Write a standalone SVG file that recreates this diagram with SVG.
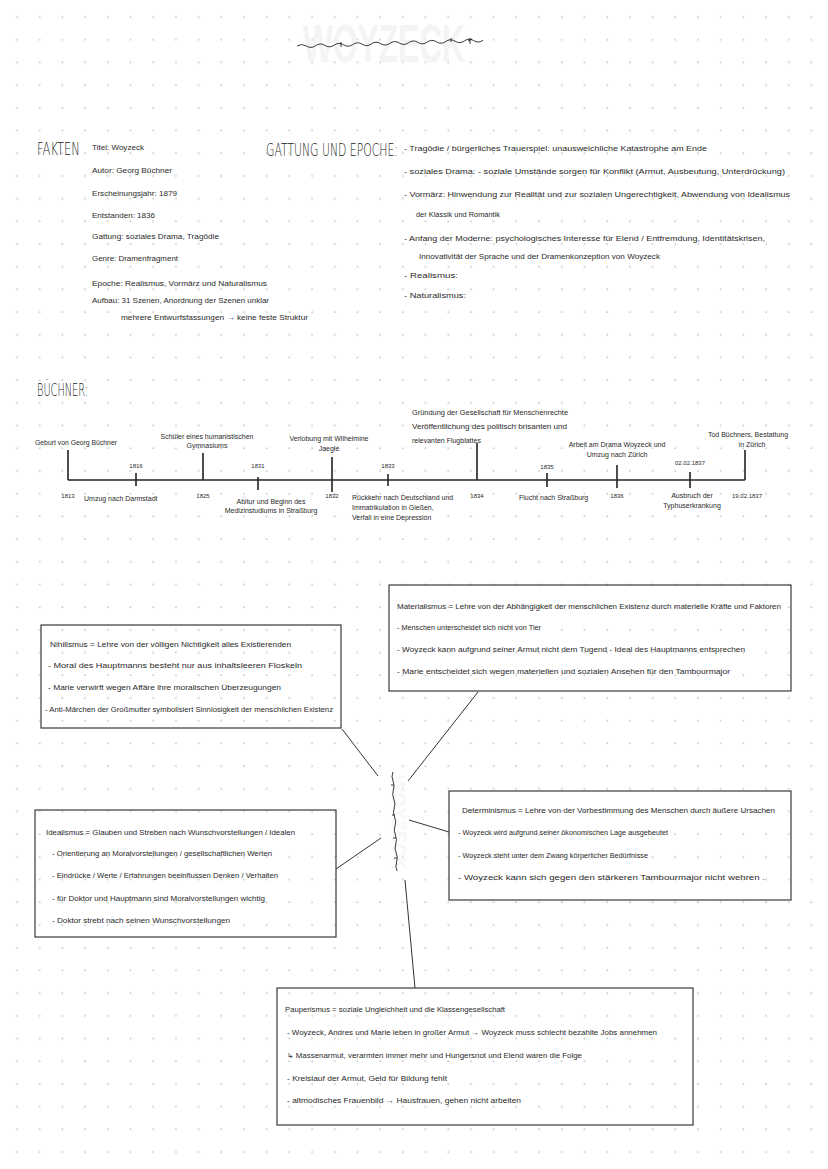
<svg xmlns="http://www.w3.org/2000/svg" width="828" height="1169" viewBox="0 0 828 1169">
<style>
.t{font-family:"Liberation Sans","DejaVu Sans",sans-serif;font-size:8px;fill:#2a2a2a}
.s{font-family:"Liberation Sans","DejaVu Sans",sans-serif;font-size:7px;fill:#2a2a2a}
.y{font-family:"Liberation Sans","DejaVu Sans",sans-serif;font-size:6px;fill:#2a2a2a}
.h{font-family:"DejaVu Sans","Liberation Sans",sans-serif;font-weight:200;fill:#222}
.box{fill:none;stroke:#3a3a3a;stroke-width:1.2}
.con line{stroke:#333;stroke-width:1}
.tl{stroke:#222;stroke-width:1.6;fill:none}
.sq{fill:none;stroke:#222;stroke-width:0.9}
.wm{font-family:"Liberation Sans",sans-serif;font-weight:bold;fill:#f4f4f4}
.m{text-anchor:middle}
</style>
<defs>
<pattern id="dots" x="0" y="0" width="22.7" height="22.7" patternUnits="userSpaceOnUse"><circle cx="17" cy="17" r="0.9" fill="#c6c6c6"/></pattern>
</defs>
<rect width="828" height="1169" fill="#ffffff"/>
<rect width="828" height="1169" fill="url(#dots)"/>

<g id="title">
<text class="wm" x="303" y="62" font-size="54" textLength="162" lengthAdjust="spacingAndGlyphs">WOYZECK</text>
<path class="sq" d="M297,46 q4.6,-3 9.3,0 t9.3,-0.3 t9.3,-0.3 t9.3,-0.3 t9.3,-0.3 t9.3,-0.3 t9.3,-0.3 t9.3,-0.3 t9.3,-0.3 t9.3,-0.3 t9.3,-0.3 t9.3,-0.3 t9.3,-0.3 t9.3,-0.3 t9.3,-0.3 t9.3,-0.3 t9.3,-0.3 t9.3,-0.3 t9.3,-0.3 t9.3,-0.3 M341,47 v-5 M451,42 v-4 M470,44 v-6 M468,41 l4,-2"/>
</g>

<g id="fakten">
<text class="h" font-size="18" transform="translate(37,155) scale(0.614,1)" textLength="70" lengthAdjust="spacingAndGlyphs">FAKTEN</text>
<text class="t" x="92" y="150" textLength="52" lengthAdjust="spacingAndGlyphs">Titel: Woyzeck</text>
<text class="t" x="92" y="173" textLength="80" lengthAdjust="spacingAndGlyphs">Autor: Georg Büchner</text>
<text class="t" x="92" y="196" textLength="85" lengthAdjust="spacingAndGlyphs">Erscheinungsjahr: 1879</text>
<text class="t" x="92" y="218" textLength="63" lengthAdjust="spacingAndGlyphs">Entstanden: 1836</text>
<text class="t" x="92" y="239" textLength="127" lengthAdjust="spacingAndGlyphs">Gattung: soziales Drama, Tragödie</text>
<text class="t" x="92" y="261" textLength="86" lengthAdjust="spacingAndGlyphs">Genre: Dramenfragment</text>
<text class="t" x="92" y="286" textLength="175" lengthAdjust="spacingAndGlyphs">Epoche: Realismus, Vormärz und Naturalismus</text>
<text class="t" x="92" y="303" textLength="177" lengthAdjust="spacingAndGlyphs">Aufbau: 31 Szenen, Anordnung der Szenen unklar</text>
<text class="t" x="121" y="320" textLength="187" lengthAdjust="spacingAndGlyphs">mehrere Entwurfsfassungen → keine feste Struktur</text>
</g>

<g id="gattung">
<text class="h" font-size="18" transform="translate(266,156) scale(0.6,1)" textLength="220" lengthAdjust="spacingAndGlyphs">GATTUNG UND EPOCHE:</text>
<text class="t" x="404" y="151" textLength="303" lengthAdjust="spacingAndGlyphs">- Tragödie / bürgerliches Trauerspiel: unausweichliche Katastrophe am Ende</text>
<text class="t" x="404" y="174" textLength="381" lengthAdjust="spacingAndGlyphs">- soziales Drama: - soziale Umstände sorgen für Konflikt (Armut, Ausbeutung, Unterdrückung)</text>
<text class="t" x="404" y="197" textLength="386" lengthAdjust="spacingAndGlyphs">- Vormärz: Hinwendung zur Realität und zur sozialen Ungerechtigkeit, Abwendung von Idealismus</text>
<text class="t" x="416" y="217" textLength="84" lengthAdjust="spacingAndGlyphs">der Klassik und Romantik</text>
<text class="t" x="404" y="241" textLength="361" lengthAdjust="spacingAndGlyphs">- Anfang der Moderne: psychologisches Interesse für Elend / Entfremdung, Identitätskrisen,</text>
<text class="t" x="419" y="259" textLength="241" lengthAdjust="spacingAndGlyphs">Innovativität der Sprache und der Dramenkonzeption von Woyzeck</text>
<text class="t" x="404" y="278" textLength="54" lengthAdjust="spacingAndGlyphs">-   Realismus:</text>
<text class="t" x="404" y="298" textLength="62" lengthAdjust="spacingAndGlyphs">-   Naturalismus:</text>
</g>

<g id="buechner">
<text class="h" font-size="17" transform="translate(37,396) scale(0.57,1)" textLength="89.5" lengthAdjust="spacingAndGlyphs">BÜCHNER:</text>
<path class="tl" d="M68,480 H745 M68,450 V480 M136,473 V486 M203,453 V480 M258,477 V490 M332,457 V492 M388,474 V486 M477,443 V480 M547,473 V487 M617,465 V488 M690,472 V488 M745,450 V480"/>
<text class="s" x="35" y="445" textLength="82" lengthAdjust="spacingAndGlyphs">Geburt von Georg Büchner</text>
<text class="y m" x="68" y="498">1813</text>
<text class="y m" x="136" y="468">1816</text>
<text class="s" x="84" y="501">Umzug nach Darmstadt</text>
<text class="s m" x="207" y="439">Schüler eines humanistischen</text>
<text class="s m" x="207" y="448">Gymnasiums</text>
<text class="y m" x="203" y="498">1825</text>
<text class="y m" x="258" y="468">1831</text>
<text class="s m" x="271" y="504">Abitur und Beginn des</text>
<text class="s m" x="271" y="513">Medizinstudiums in Straßburg</text>
<text class="s m" x="329" y="441">Verlobung mit Wilhelmine</text>
<text class="s m" x="329" y="451">Jaeglé</text>
<text class="y m" x="332" y="498">1832</text>
<text class="y m" x="388" y="468">1833</text>
<text class="s" x="352" y="500">Rückkehr nach Deutschland und</text>
<text class="s" x="352" y="510">Immatrikulation in Gießen,</text>
<text class="s" x="352" y="520">Verfall in eine Depression</text>
<text class="s" x="412" y="415" textLength="156" lengthAdjust="spacingAndGlyphs">Gründung der Gesellschaft für Menschenrechte</text>
<text class="s" x="412" y="429" textLength="155" lengthAdjust="spacingAndGlyphs">Veröffentlichung des politisch brisanten und</text>
<text class="s" x="412" y="443">relevanten Flugblattes</text>
<text class="y m" x="477" y="498">1834</text>
<text class="y m" x="547" y="469">1835</text>
<text class="s" x="519" y="500">Flucht nach Straßburg</text>
<text class="s m" x="617" y="447">Arbeit am Drama Woyzeck und</text>
<text class="s m" x="617" y="457">Umzug nach Zürich</text>
<text class="y m" x="617" y="498">1836</text>
<text class="y m" x="690" y="465">02.02.1837</text>
<text class="s m" x="692" y="498">Ausbruch der</text>
<text class="s m" x="692" y="508">Typhuserkrankung</text>
<text class="s m" x="748" y="437">Tod Büchners, Bestattung</text>
<text class="s m" x="752" y="447">in Zürich</text>
<text class="y m" x="747" y="498">19.02.1837</text>
</g>

<g class="con" id="connectors">
<line x1="342" y1="729" x2="378" y2="776"/>
<line x1="478" y1="692" x2="408" y2="781"/>
<line x1="336" y1="869" x2="381" y2="838"/>
<line x1="409" y1="820" x2="449" y2="832"/>
<line x1="405" y1="880" x2="415" y2="988"/>
</g>

<g id="center">
<text class="wm" font-size="20" transform="translate(392,775) rotate(90)" style="fill:#f8f8f8" textLength="95" lengthAdjust="spacingAndGlyphs">WOYZECK</text>
<path class="sq" d="M393,772 q-2,4.5 0,9 t0.4,9 t0.4,9 t0.4,9 t0.4,9 t0.4,9 t0.4,9 t0.4,9 t0.4,9 t0.4,9 t0.4,9 M391,785 h3 M392,815 h3 M393,838 h3 M394,858 h3"/>
</g>

<g id="nihilismus">
<rect class="box" x="41" y="625" width="300" height="103"/>
<text class="s" x="50" y="647" textLength="241" lengthAdjust="spacingAndGlyphs">Nihilismus = Lehre von der völligen Nichtigkeit alles Existierenden</text>
<text class="s" x="48" y="668" textLength="254" lengthAdjust="spacingAndGlyphs">- Moral des Hauptmanns besteht nur aus inhaltsleeren Floskeln</text>
<text class="s" x="48" y="690" textLength="233" lengthAdjust="spacingAndGlyphs">- Marie verwirft wegen Affäre ihre moralischen Überzeugungen</text>
<text class="s" x="45" y="712" textLength="288" lengthAdjust="spacingAndGlyphs">- Anti-Märchen der Großmutter symbolisiert Sinnlosigkeit der menschlichen Existenz</text>
</g>

<g id="materialismus">
<rect class="box" x="389" y="585" width="402" height="106"/>
<text class="s" x="397" y="609" textLength="384" lengthAdjust="spacingAndGlyphs">Materialismus = Lehre von der Abhängigkeit der menschlichen Existenz durch materielle Kräfte und Faktoren</text>
<text class="s" x="397" y="630" textLength="144" lengthAdjust="spacingAndGlyphs">- Menschen unterscheidet sich nicht von Tier</text>
<text class="s" x="397" y="652" textLength="348" lengthAdjust="spacingAndGlyphs">- Woyzeck kann aufgrund seiner Armut nicht dem Tugend - Ideal des Hauptmanns entsprechen</text>
<text class="s" x="397" y="674" textLength="333" lengthAdjust="spacingAndGlyphs">- Marie entscheidet sich wegen materiellen und sozialen Ansehen für den Tambourmajor</text>
</g>

<g id="idealismus">
<rect class="box" x="35" y="810" width="301" height="127"/>
<text class="s" x="46" y="835" textLength="249" lengthAdjust="spacingAndGlyphs">Idealismus = Glauben und Streben nach Wunschvorstellungen / Idealen</text>
<text class="s" x="52" y="856" textLength="220" lengthAdjust="spacingAndGlyphs">-   Orientierung an Moralvorstellungen / gesellschaftlichen Werten</text>
<text class="s" x="52" y="878" textLength="226" lengthAdjust="spacingAndGlyphs">-   Eindrücke / Werte / Erfahrungen beeinflussen Denken / Verhalten</text>
<text class="s" x="52" y="901" textLength="213" lengthAdjust="spacingAndGlyphs">-   für Doktor und Hauptmann sind Moralvorstellungen wichtig</text>
<text class="s" x="52" y="923" textLength="178" lengthAdjust="spacingAndGlyphs">-   Doktor strebt nach seinen Wunschvorstellungen</text>
</g>

<g id="determinismus">
<rect class="box" x="449" y="791" width="342" height="109"/>
<text class="s" x="462" y="813" textLength="313" lengthAdjust="spacingAndGlyphs">Determinismus = Lehre von der Vorbestimmung des Menschen durch äußere Ursachen</text>
<text class="s" x="458" y="835" textLength="210" lengthAdjust="spacingAndGlyphs">- Woyzeck wird aufgrund seiner ökonomischen Lage ausgebeutet</text>
<text class="s" x="458" y="858" textLength="190" lengthAdjust="spacingAndGlyphs">- Woyzeck steht unter dem Zwang körperlicher Bedürfnisse</text>
<text class="t" x="458" y="880" textLength="307" lengthAdjust="spacingAndGlyphs">- Woyzeck kann sich gegen den stärkeren Tambourmajor nicht wehren .</text>
</g>

<g id="pauperismus">
<rect class="box" x="277" y="988" width="416" height="137"/>
<text class="s" x="285" y="1012" textLength="220" lengthAdjust="spacingAndGlyphs">Pauperismus = soziale Ungleichheit und die Klassengesellschaft</text>
<text class="s" x="287" y="1035" textLength="370" lengthAdjust="spacingAndGlyphs">-   Woyzeck, Andres und Marie leben in großer Armut → Woyzeck muss schlecht bezahlte Jobs annehmen</text>
<text class="s" x="287" y="1058" textLength="295" lengthAdjust="spacingAndGlyphs">↳  Massenarmut, verarmten immer mehr und Hungersnot und Elend waren die Folge</text>
<text class="s" x="287" y="1081" textLength="160" lengthAdjust="spacingAndGlyphs">- Kreislauf der Armut, Geld für Bildung fehlt</text>
<text class="s" x="287" y="1103" textLength="234" lengthAdjust="spacingAndGlyphs">- altmodisches Frauenbild → Hausfrauen, gehen nicht arbeiten</text>
</g>
</svg>
